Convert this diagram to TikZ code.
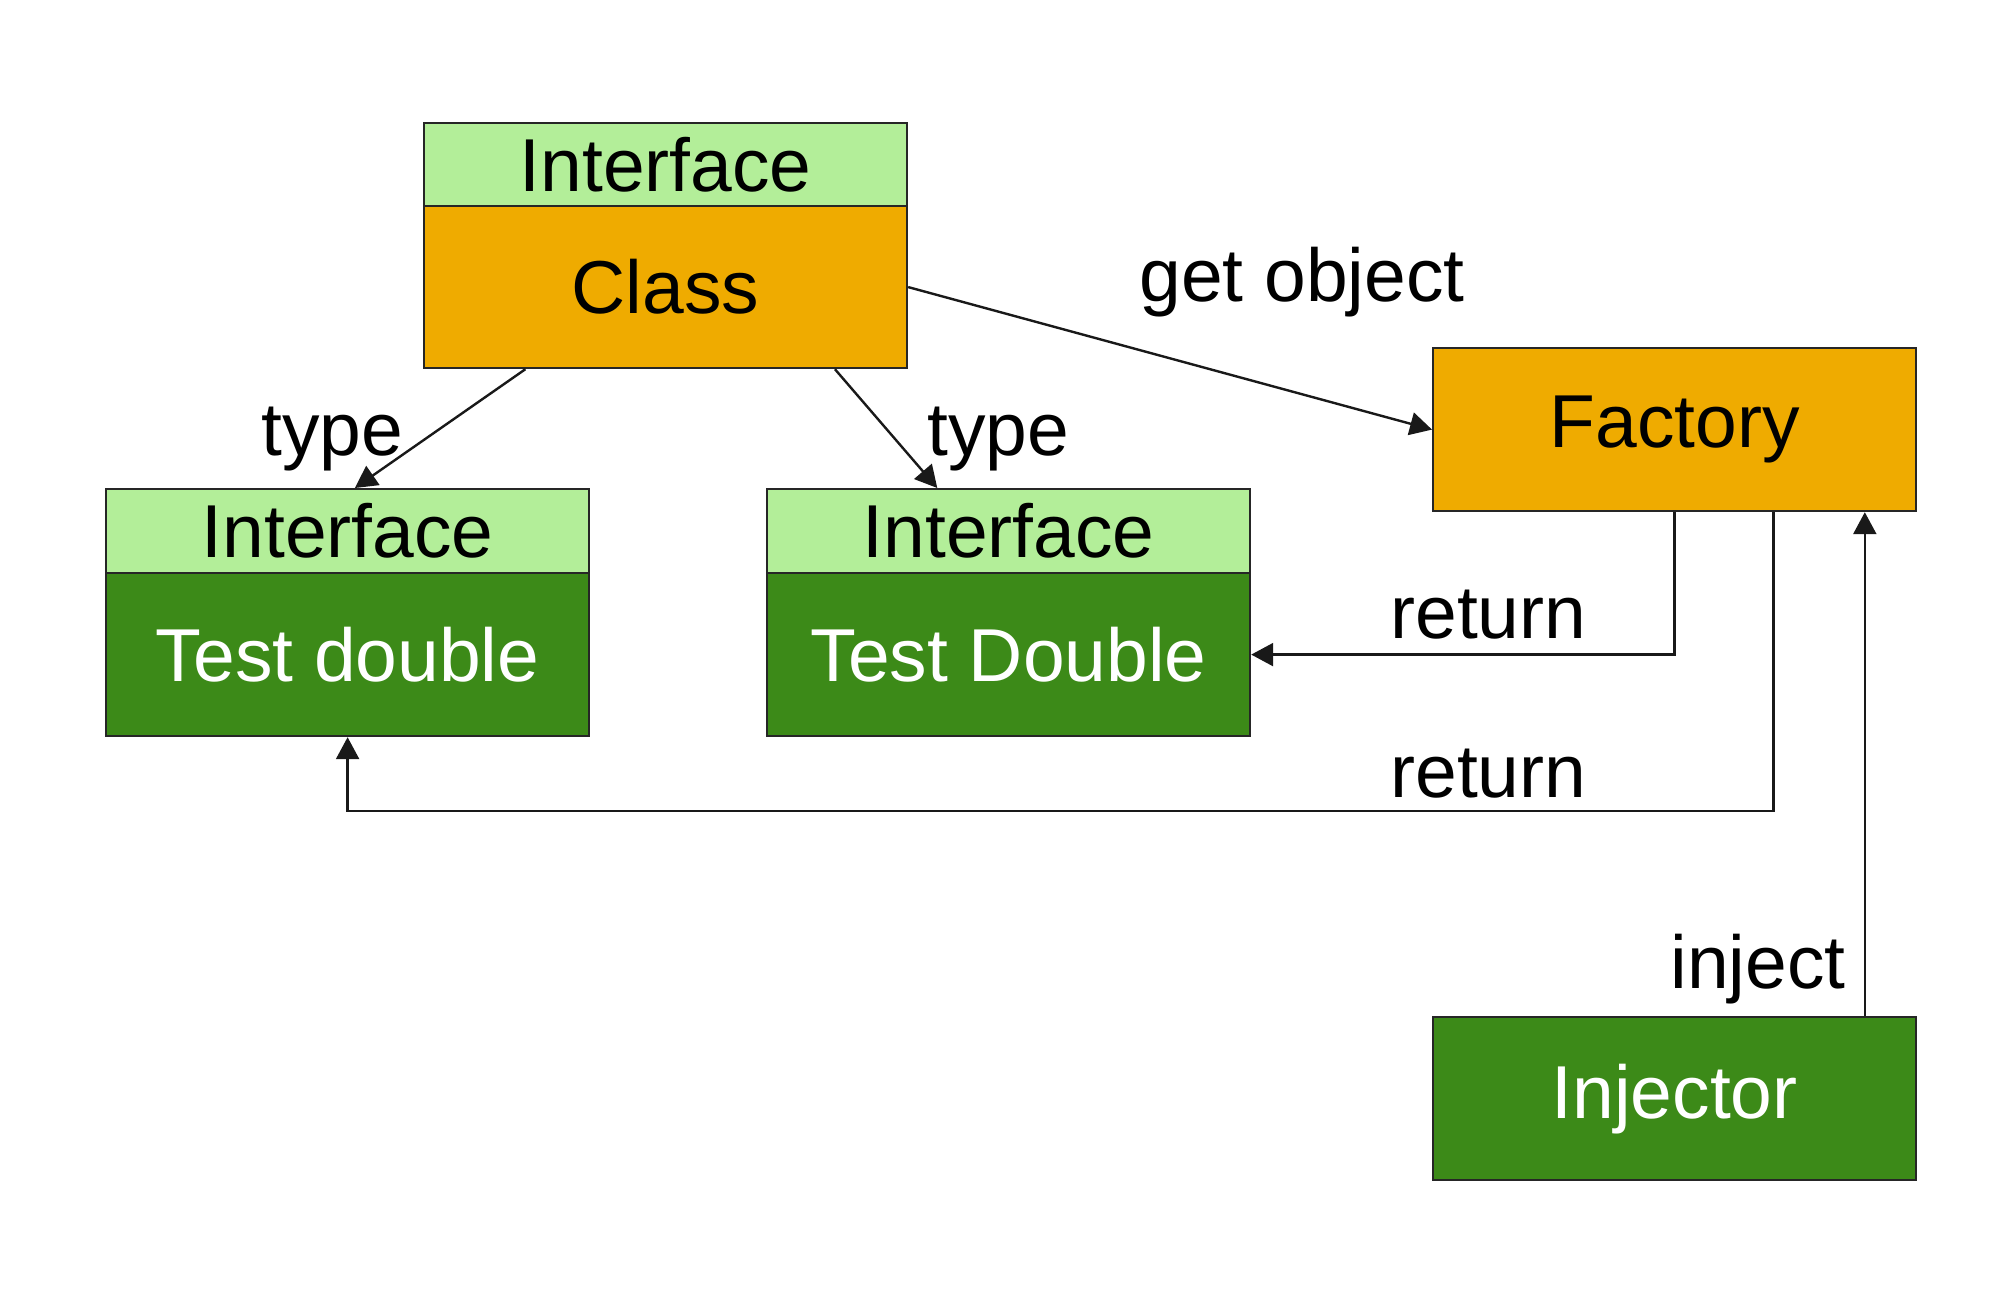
\documentclass[tikz,border=0pt]{standalone}
\usepackage{fontspec}
\setmainfont{Liberation Sans}
\usetikzlibrary{arrows.meta,calc}
\definecolor{lightgr}{RGB}{179,238,153}
\definecolor{orangebox}{RGB}{239,171,0}
\definecolor{darkgr}{RGB}{60,138,24}
\tikzset{
  box/.style={draw=black!85, line width=1.1pt, anchor=north west, inner sep=0pt,
    font=\fontsize{37.5}{45}\selectfont, minimum width=#1},
  hdr/.style={box=#1, fill=lightgr, minimum height=41.5pt, text=black},
  orbody/.style={box=#1, fill=orangebox, text=black},
  grbody/.style={box=#1, fill=darkgr, text=white},
  conn/.style={line width=1.2pt, draw=black!90},
  arr/.style={conn, -{Triangle[length=11pt,width=11.5pt]}},
  lbl/.style={font=\fontsize{37.5}{45}\selectfont, inner sep=0pt}
}
\begin{document}
\begin{tikzpicture}[x=0.5pt,y=-0.5pt]
\useasboundingbox (0,0) rectangle (2000,1294);
% Class
\node[hdr=241.5pt] (ifC) at (423,122) {Interface};
\node[orbody=241.5pt, minimum height=81pt] (classB) at (423,205) {Class};
% Test double (left)
\node[hdr=241.5pt, minimum height=42pt] (ifA) at (105,488) {Interface};
\node[grbody=241.5pt, minimum height=81.5pt] (tdA) at (105,572) {Test double};
% Test Double (middle)
\node[hdr=241.5pt, minimum height=42pt] (ifB) at (766,488) {Interface};
\node[grbody=241.5pt, minimum height=81.5pt] (tdB) at (766,572) {Test Double};
% Factory
\node[orbody=241.5pt, minimum height=81.5pt] (factory) at (1432,347) {Factory};
% Injector
\node[grbody=241.5pt, minimum height=81.5pt] (injector) at (1432,1016) {Injector};

% type arrows
\draw[arr] ($(classB.south west)!0.211!(classB.south east)$) -- ($(ifA.north west)!0.515!(ifA.north east)$);
\draw[arr] ($(classB.south west)!0.849!(classB.south east)$) -- ($(ifB.north west)!0.353!(ifB.north east)$);
\node[lbl, anchor=base west] (ltype1) at (261,455) {type};
\node[lbl, anchor=base west] (ltype2) at (927,455) {type};

% get object
\draw[arr] (classB.east) -- (factory.west);
\node[lbl, anchor=base west] (lget) at (1139,302) {get object};

% return 1
\draw[arr] (factory.south) |- (tdB.east);
\node[lbl, anchor=base west] (lret1) at (1390,638) {return};

% return 2
\coordinate (f2) at ($(factory.south west)!0.704!(factory.south east)$);
\coordinate (r2) at (f2 |- 0,811);
\draw[arr] (f2) -- (r2) -| (tdA.south);
\node[lbl, anchor=base west] (lret2) at (1390,797) {return};

% inject
\coordinate (i2) at ($(injector.north west)!0.892!(injector.north east)$);
\draw[arr] (i2) -- (i2 |- factory.south);
\node[lbl, anchor=base east] (linj) at (1846,988) {inject};
\end{tikzpicture}
\end{document}
